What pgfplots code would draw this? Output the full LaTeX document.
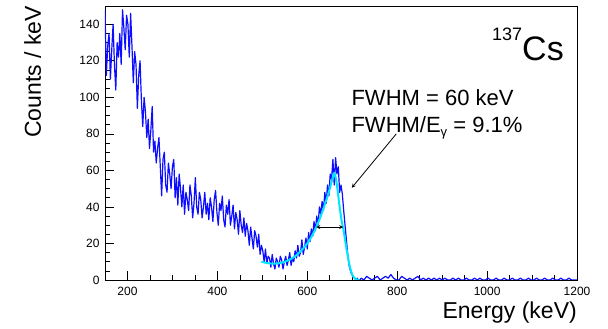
\documentclass[border=0pt]{standalone}
\usepackage{fontspec}
\setmainfont{Liberation Sans}
\usepackage{pgfplots}
\pgfplotsset{compat=1.18}
\definecolor{histblue}{rgb}{0.05,0.05,1}
\definecolor{fitcyan}{rgb}{0,0.9,1}
\begin{document}
\begin{tikzpicture}
\begin{axis}[
  width=472pt, height=274pt, scale only axis,
  xmin=150, xmax=1200, ymin=0, ymax=150,
  axis line style={black, line width=0.7pt},
  tick align=inside, xtick pos=bottom, ytick pos=left,
  xtick={200,400,600,800,1000,1200},
  ytick={0,20,40,60,80,100,120,140},
  minor x tick num=3, minor y tick num=3,
  major tick length=9pt, minor tick length=5pt,
  tick style={black, line width=0.6pt},
  /pgf/number format/assume math mode=true,
  /pgf/number format/1000 sep={},
  tick label style={font=\fontsize{12}{14}\selectfont},
  xticklabel style={yshift=-4pt},
  yticklabel style={xshift=-2pt},
  xlabel={Energy (keV)},
  ylabel={Counts / keV},
  label style={font=\fontsize{23}{26}\selectfont},
  xlabel style={at={(axis description cs:1,-0.08)}, anchor=north east, inner sep=0pt},
  ylabel style={at={(axis description cs:-0.135,1)}, anchor=south east, inner sep=0pt},
  clip=true,
]
\addplot[sharp plot, histblue, line width=1.2pt, line join=round, no markers] coordinates {
(150,148)(153,112)(156,128)(159,135)(162,110)(165,126)(168,140)(171,118)(174,104)(177,130)
(180,122)(183,135)(186,118)(189,148)(192,138)(195,126)(198,145)(201,140)(204,122)(207,146)
(210,128)(213,108)(216,125)(219,118)(222,94)(225,112)(228,120)(231,98)(234,84)(237,100)
(240,92)(243,78)(246,88)(249,72)(252,82)(255,95)(258,70)(261,76)(264,64)(267,72)
(270,78)(273,62)(276,46)(279,66)(282,70)(285,52)(288,48)(291,64)(294,58)(297,50)
(300,62)(303,66)(306,45)(309,56)(312,41)(315,58)(318,50)(321,40)(324,52)(327,36)
(330,48)(333,44)(336,38)(339,52)(342,46)(345,34)(348,42)(351,56)(354,40)(357,36)
(360,48)(363,44)(366,34)(369,40)(372,48)(375,36)(378,42)(381,33)(384,45)(387,40)
(390,32)(393,44)(396,49)(399,37)(402,30)(405,42)(408,38)(411,46)(414,33)(417,29)
(420,41)(423,36)(426,44)(429,30)(432,35)(435,41)(438,28)(441,37)(444,33)(447,25)
(450,38)(453,30)(456,26)(459,34)(462,24)(465,31)(468,27)(471,19)(474,29)(477,23)
(480,17)(483,27)(486,24)(489,18)(492,25)(495,14)(498,19)(501,16)(504,10)(507,17)
(510,9)(513,13)(516,12)(519,7)(522,14)(525,9)(528,6)(531,12)(534,10)(537,7)
(540,13)(543,11)(546,6)(549,10)(552,13)(555,8)(558,11)(561,15)(564,8)(567,12)
(570,10)(573,16)(576,12)(579,19)(582,13)(585,15)(588,22)(591,14)(594,18)(597,23)
(600,17)(603,26)(606,21)(609,28)(612,24)(615,32)(618,27)(621,35)(624,30)(627,40)
(630,36)(633,43)(636,38)(639,48)(642,42)(645,52)(648,46)(651,58)(654,55)(657,66)
(660,52)(663,67)(666,58)(669,62)(672,48)(675,52)(678,47)(681,38)(684,30)(687,22)
(690,14)(693,8)(696,5)(699,3)(702,2)(705,1)(708,0)(711,1)(714,0)(717,0)
(720,1)(726,0)(732,2)(738,1)(744,0)(750,1)(756,2)(762,0)(768,1)(774,2)
(780,1)(786,3)(792,1)(798,0)(804,0)(810,2)(816,1)(822,0)(828,1)(834,0)
(840,1)(846,2)(852,0)(858,1)(864,0)(870,1)(876,0)(882,1)(888,0)(894,1)
(900,0)(906,1)(912,0)(918,0)(924,1)(930,0)(936,1)(942,0)(948,0)(954,1)
(960,0)(966,0)(972,1)(978,0)(984,1)(990,0)(996,0)(1002,1)(1008,0)(1014,0)
(1020,1)(1026,0)(1032,0)(1038,1)(1044,0)(1050,0)(1056,1)(1062,0)(1068,0)(1074,1)
(1080,0)(1086,0)(1092,1)(1098,0)(1104,0)(1110,1)(1116,0)(1122,0)(1128,1)(1134,0)
(1140,0)(1146,1)(1152,0)(1158,0)(1164,1)(1170,0)(1176,0)(1182,1)(1188,0)(1194,0)(1200,0)
};
\addplot[fitcyan, line width=2pt, smooth, no markers] coordinates {
(498,10)(510,9.3)(520,9)(530,9)(540,9.3)(550,10)(560,11)(570,12.5)(580,14.5)(590,17)
(600,20)(610,24)(620,29)(630,35)(640,42)(650,50)(655,54.5)(660,58.5)(664,55)(668,48)
(672,40)(676,33)(680,28)(684,22)(688,16)(692,10.5)(696,6)(700,3)(704,1.3)(708,0.5)(712,0.1)(716,0)
};
\draw[<->, >=stealth, black, line width=0.8pt] (axis cs:620,29) -- (axis cs:680,29);
\draw[->, >=stealth, black, line width=0.8pt] (axis cs:798,80) -- (axis cs:699,50.5);
\node[anchor=base west, inner sep=0pt, font=\fontsize{22}{24}\selectfont] at (axis cs:698,95.6) {FWHM = 60 keV};
\node[anchor=base west, inner sep=0pt, font=\fontsize{22}{24}\selectfont] at (axis cs:698,80.8) {FWHM/E\raisebox{-4pt}{\fontsize{13}{13}\selectfont γ} = 9.1\%};
\node[anchor=base east, inner sep=0pt, font=\fontsize{34}{36}\selectfont] at (axis cs:1171,120) {\raisebox{20pt}{\fontsize{18}{18}\selectfont 137}Cs};
\end{axis}
\path ([shift={(-105pt,-49pt)}]current axis.south west) rectangle ([shift={(31pt,6pt)}]current axis.north east);
\end{tikzpicture}
\end{document}
